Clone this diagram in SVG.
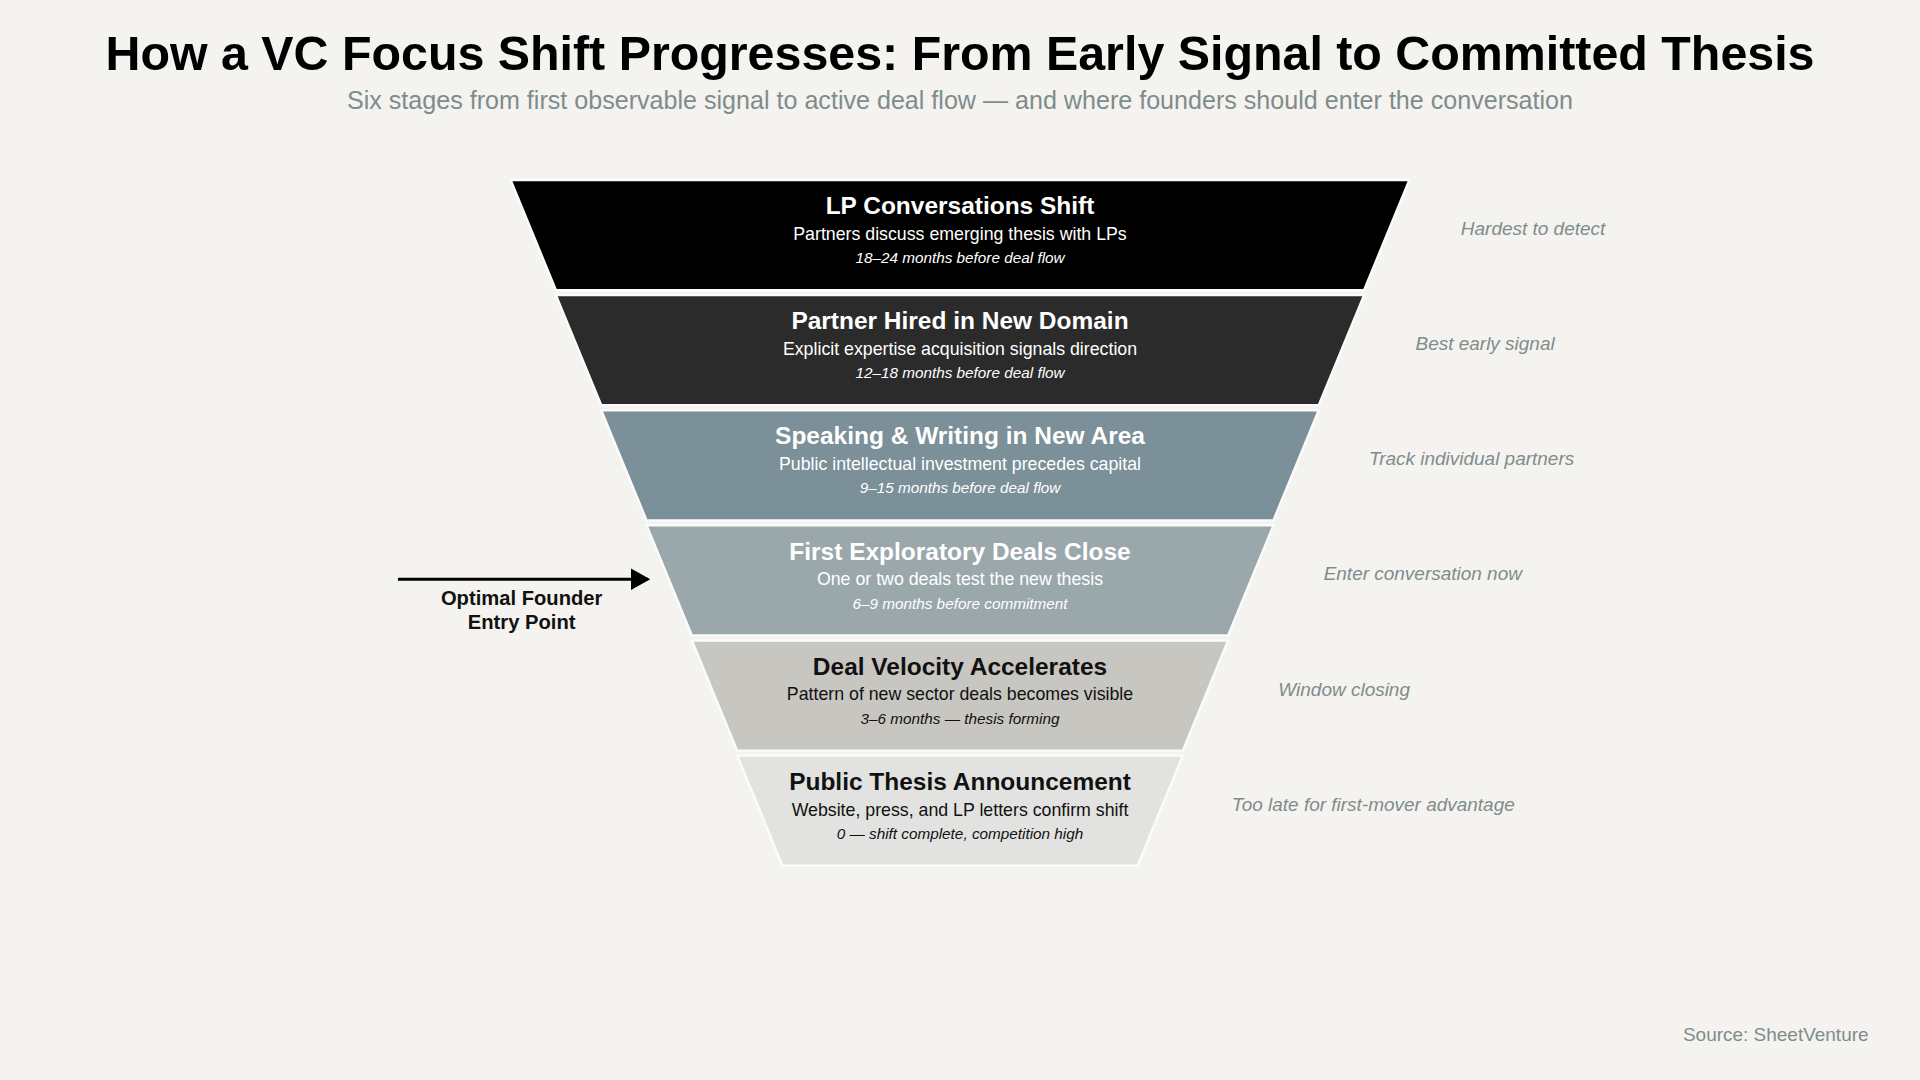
<svg xmlns="http://www.w3.org/2000/svg" width="1920" height="1080" viewBox="0 0 1920 1080">
<defs>
<style>
text{font-family:"Liberation Sans",Arial,sans-serif;text-anchor:middle}
.h{font-size:20px;font-weight:bold}
.d{font-size:14.5px}
.i{font-size:12.5px;font-style:italic}
.w{fill:#fff}
.k{fill:#111}
.r{font-size:15.5px;font-style:italic;fill:#7f8c8d;text-anchor:start}
.layer{stroke:#fbfbf9;stroke-width:2}
</style>
<marker id="ah" markerWidth="20" markerHeight="20" refX="14" refY="9" orient="auto" markerUnits="userSpaceOnUse"><path d="M0,0 L16,9 L0,18 Z" fill="#000"/></marker>
</defs>
<rect width="1920" height="1080" fill="#f4f3ef"/>
<g transform="scale(1.22449)">
<text x="784" y="57" style="font-size:39.5px;font-weight:bold" fill="#000">How a VC Focus Shift Progresses: From Early Signal to Committed Thesis</text>
<text x="784" y="89" style="font-size:20.5px" fill="#7f8c8d">Six stages from first observable signal to active deal flow — and where founders should enter the conversation</text>

<g id="stage1"><polygon class="layer" points="417,147 1151,147 1114,237 454,237" fill="#000"/>
<text class="h w" x="784" y="175">LP Conversations Shift</text><text class="d w" x="784" y="196">Partners discuss emerging thesis with LPs</text><text class="i w" x="784" y="215">18–24 months before deal flow</text>
<text class="r" x="1193" y="192">Hardest to detect</text></g>

<g id="stage2"><polygon class="layer" points="454,241 1114,241 1077,331 491,331" fill="#2b2b2b"/>
<text class="h w" x="784" y="269">Partner Hired in New Domain</text><text class="d w" x="784" y="290">Explicit expertise acquisition signals direction</text><text class="i w" x="784" y="309">12–18 months before deal flow</text>
<text class="r" x="1156" y="286">Best early signal</text></g>

<g id="stage3"><polygon class="layer" points="491,335 1077,335 1040,425 528,425" fill="#7b9098"/>
<text class="h w" x="784" y="363">Speaking &amp; Writing in New Area</text><text class="d w" x="784" y="384">Public intellectual investment precedes capital</text><text class="i w" x="784" y="403">9–15 months before deal flow</text>
<text class="r" x="1118" y="380">Track individual partners</text></g>

<g id="stage4"><polygon class="layer" points="528,429 1040,429 1003,519 565,519" fill="#9aa8ac"/>
<text class="h w" x="784" y="457">First Exploratory Deals Close</text><text class="d w" x="784" y="478">One or two deals test the new thesis</text><text class="i w" x="784" y="497">6–9 months before commitment</text>
<text class="r" x="1081" y="474">Enter conversation now</text></g>

<g id="stage5"><polygon class="layer" points="565,523 1003,523 966,613 602,613" fill="#c8c6c0"/>
<text class="h k" x="784" y="551">Deal Velocity Accelerates</text><text class="d k" x="784" y="572">Pattern of new sector deals becomes visible</text><text class="i k" x="784" y="591">3–6 months — thesis forming</text>
<text class="r" x="1044" y="568">Window closing</text></g>

<g id="stage6"><polygon class="layer" points="602,617 966,617 929,707 639,707" fill="#e2e3e0"/>
<text class="h k" x="784" y="645">Public Thesis Announcement</text><text class="d k" x="784" y="666">Website, press, and LP letters confirm shift</text><text class="i k" x="784" y="685">0 — shift complete, competition high</text>
<text class="r" x="1006" y="662">Too late for first-mover advantage</text></g>

<g id="connectors"><line x1="325" y1="473" x2="529" y2="473" stroke="#000" stroke-width="2.5" marker-end="url(#ah)"/></g>
<g id="entry"><text x="426" y="494" style="font-size:16.5px;font-weight:bold" fill="#111">Optimal Founder</text><text x="426" y="514" style="font-size:16.5px;font-weight:bold" fill="#111">Entry Point</text></g>
<text x="1526" y="850" style="font-size:15.5px;text-anchor:end" fill="#7f8c8d">Source: SheetVenture</text>
</g>
</svg>
